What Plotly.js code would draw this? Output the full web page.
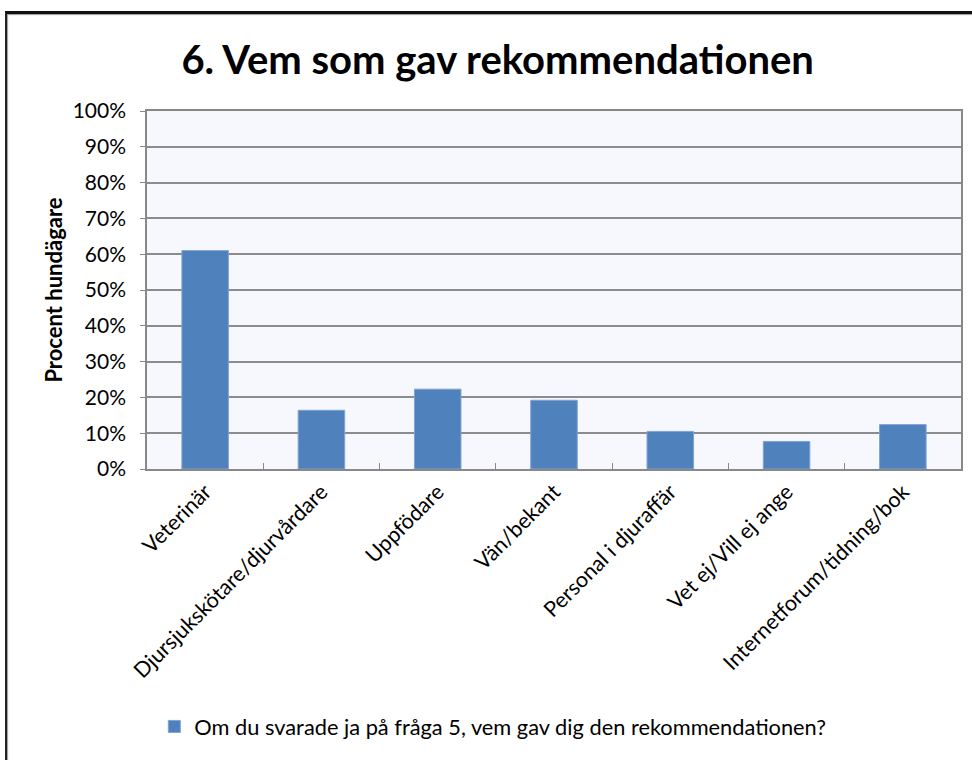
<!DOCTYPE html>
<html>
<head>
<meta charset="utf-8">
<script src="https://cdn.plot.ly/plotly-3.0.1.min.js"></script>
<style>
  html, body { margin: 0; padding: 0; background: #ffffff; }
  #frame { position: absolute; left: 5px; top: 11px; width: 990px; height: 800px;
           border-left: 2px solid #222; border-top: 3px solid #111;
           box-shadow: inset 1px 1px 1px #999; }
  #chart { position: absolute; left: 0; top: 0; width: 972px; height: 760px; }
</style>
</head>
<body>
<div id="frame"></div>
<div id="chart"></div>
<script>
const categories = ["Veterinär", "Djursjukskötare/djurvårdare", "Uppfödare", "Vän/bekant",
                    "Personal i djuraffär", "Vet ej/Vill ej ange", "Internetforum/tidning/bok"];
const values = [0.61, 0.164, 0.223, 0.192, 0.105, 0.077, 0.124];
const seriesName = "Om du svarade ja på fråga 5, vem gav dig den rekommendationen?";
const yTickVals = [0, 0.1, 0.2, 0.3, 0.4, 0.5, 0.6, 0.7, 0.8, 0.9, 1.0];
const yTickText = ["0%", "10%", "20%", "30%", "40%", "50%", "60%", "70%", "80%", "90%", "100%"];

const font = "Lato, 'Open Sans', sans-serif";

const trace = {
  type: "bar",
  x: categories,
  y: values,
  name: seriesName,
  marker: { color: "#4F81BD", line: { color: "#7FA3D3", width: 1 } },
  showlegend: true,
  hoverinfo: "x+y"
};

const layout = {
  width: 972, height: 760,
  margin: { l: 147, r: 11, t: 111, b: 291 },
  paper_bgcolor: "rgba(0,0,0,0)",
  plot_bgcolor: "#F7F8FE",
  bargap: 0.6,
  title: { text: "<b>6. Vem som gav rekommendationen</b>", x: 0.512, xanchor: "center", y: 0.921, yanchor: "middle",
           font: { family: font, size: 40, color: "#000" } },
  xaxis: {
    type: "category",
    tickangle: -45,
    tickson: "boundaries",
    ticks: "inside", ticklen: 6, tickcolor: "#888",
    showgrid: false,
    showline: true, linecolor: "#888", linewidth: 1.5, mirror: true,
    tickfont: { family: font, size: 21.5, color: "#000" }
  },
  yaxis: {
    range: [0, 1.0],
    tickvals: yTickVals, ticktext: yTickText,
    ticks: "outside", ticklen: 5, tickcolor: "#888",
    ticklabelstandoff: 10,
    showgrid: true, gridcolor: "#8C8C8C", gridwidth: 1.5,
    showline: true, linecolor: "#888", linewidth: 1.5, mirror: true,
    zeroline: false,
    tickfont: { family: font, size: 21, color: "#000" },
    title: { text: "<b>Procent hundägare</b>", standoff: 4, font: { family: font, size: 22, color: "#000" } }
  },
  legend: {
    orientation: "h", x: 0.009, xanchor: "left", y: -0.72, yanchor: "middle",
    font: { family: font, size: 21.8, color: "#000" },
    bgcolor: "rgba(0,0,0,0)"
  }
};

Plotly.newPlot("chart", [trace], layout, { displayModeBar: false });
</script>
</body>
</html>
